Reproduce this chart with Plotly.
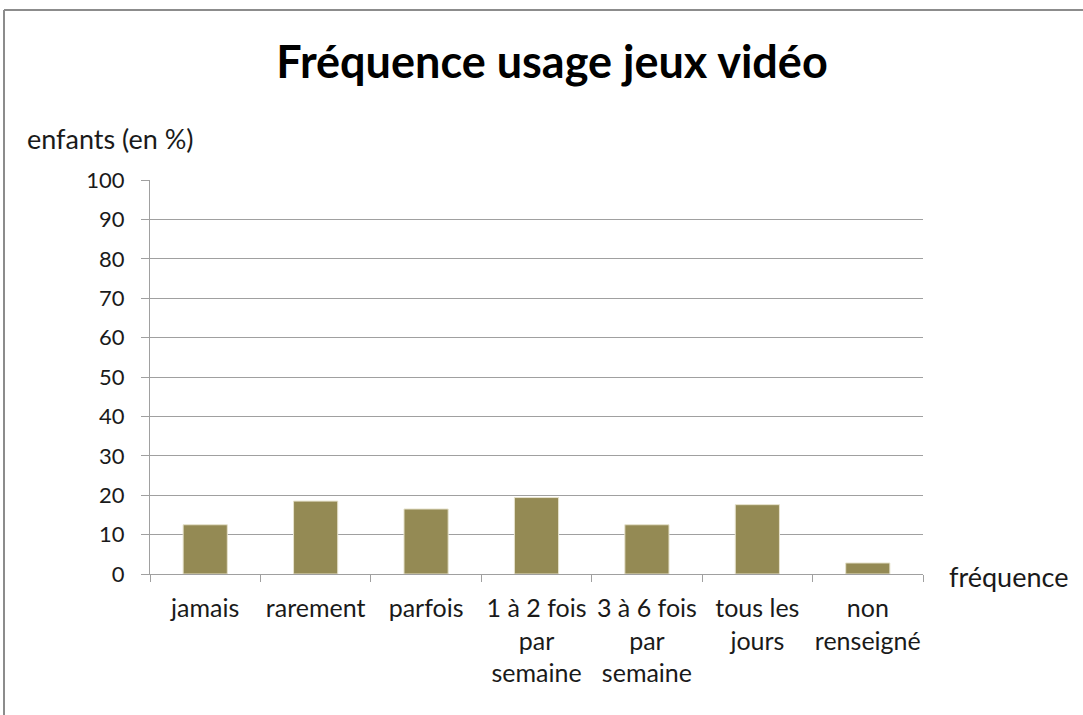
import plotly.graph_objects as go

# Fréquence d'usage des jeux vidéo chez les enfants
categories = [
    "jamais",
    "rarement",
    "parfois",
    "1 à 2 fois<br>par<br>semaine",
    "3 à 6 fois<br>par<br>semaine",
    "tous les<br>jours",
    "non<br>renseigné",
]
pourcentages = [12.5, 18.5, 16.5, 19.4, 12.5, 17.6, 2.8]
y_ticks = [0, 10, 20, 30, 40, 50, 60, 70, 80, 90, 100]

FONT = "Lato, Open Sans, sans-serif"
GRID = "#a0a0a0"
TEXT = "#1a1a1a"

fig = go.Figure(
    go.Bar(
        x=categories,
        y=pourcentages,
        marker=dict(color="#948A54", line=dict(color="#e6e2cc", width=1)),
        hoverinfo="x+y",
    )
)

W, H = 1083, 715
L, R, T, B = 150, 160, 180, 141
pw, ph = W - L - R, H - T - B


def px(x):
    return (x - L) / pw


def py(y):
    return (H - B - y) / ph


fig.update_layout(
    width=W,
    height=H,
    margin=dict(l=L, r=R, t=T, b=B),
    paper_bgcolor="white",
    plot_bgcolor="white",
    showlegend=False,
    bargap=0.6,
    font=dict(family=FONT, size=22, color=TEXT),
    title=dict(
        text="<b>Fréquence usage jeux vidéo</b>",
        x=px(552),
        xref="paper",
        xanchor="center",
        y=1 - 62 / H,
        yanchor="middle",
        font=dict(family=FONT, size=45, color="#000000"),
    ),
    xaxis=dict(
        type="category",
        showgrid=False,
        showline=True,
        linecolor=GRID,
        linewidth=1,
        ticks="outside",
        tickson="boundaries",
        ticklen=7,
        tickcolor=GRID,
        tickangle=0,
        ticklabelstandoff=12,
        tickfont=dict(size=25, color=TEXT),
        fixedrange=True,
    ),
    yaxis=dict(
        range=[0, 100],
        tickvals=y_ticks,
        showgrid=True,
        gridcolor=GRID,
        gridwidth=1,
        showline=True,
        linecolor=GRID,
        ticks="outside",
        ticklen=8,
        tickcolor=GRID,
        ticklabelstandoff=12,
        tickfont=dict(size=22, color=TEXT),
        zeroline=False,
        fixedrange=True,
    ),
    annotations=[
        dict(
            text="enfants (en %)",
            xref="paper", yref="paper",
            x=px(25), y=py(138),
            xanchor="left", yanchor="middle",
            showarrow=False,
            font=dict(size=27, family=FONT, color=TEXT),
        ),
        dict(
            text="fréquence",
            xref="paper", yref="paper",
            x=px(947), y=py(576),
            xanchor="left", yanchor="middle",
            showarrow=False,
            font=dict(size=27, family=FONT, color=TEXT),
        ),
    ],
    shapes=[
        # cadre du graphique
        dict(type="line", xref="paper", yref="paper",
             x0=px(4), x1=px(W + 5), y0=py(10), y1=py(10),
             line=dict(color="#8c8c8c", width=2)),
        dict(type="line", xref="paper", yref="paper",
             x0=px(4), x1=px(4), y0=py(10), y1=py(H + 5),
             line=dict(color="#8c8c8c", width=2)),
    ],
)

fig.write_html("out.html")
